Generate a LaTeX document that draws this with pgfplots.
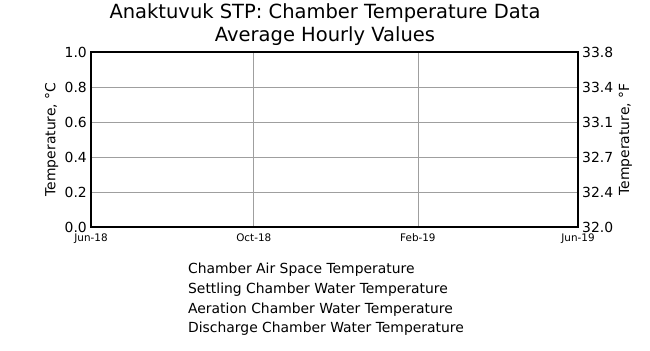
\documentclass[border=0pt]{standalone}
\usepackage{pgfplots}
\pgfplotsset{compat=1.18}
\usepackage{fontspec}
\setmainfont{DejaVu Sans}
\begin{document}
\begin{tikzpicture}[x=1bp,y=1bp]
\useasboundingbox (0,0) rectangle (650,350);
\pgfplotsset{
  /pgf/number format/assume math mode=true,
  every axis/.append style={
    scale only axis, width=487bp, height=175bp,
    at={(91bp,123bp)}, anchor=south west,
    xmin=0, xmax=365, ymin=0, ymax=1,
    axis line style={line width=1.1bp, black},
    major tick length=0pt,
    tick label style={font=\fontsize{13.9bp}{16bp}\selectfont},
    label style={font=\fontsize{13.9bp}{16bp}\selectfont},
  },
}
\begin{axis}[
  xtick={0,122,245,365},
  xticklabels={Jun-18,Oct-18,Feb-19,Jun-19},
  xticklabel style={font=\fontsize{10.4bp}{12bp}\selectfont, inner sep=1bp, yshift=-5.5bp},
  ytick={0,0.2,0.4,0.6,0.8,1.0},
  yticklabel style={/pgf/number format/fixed, /pgf/number format/fixed zerofill, /pgf/number format/precision=1, inner sep=0pt, xshift=-4bp},
  grid=major,
  major grid style={gray!75, line width=0.6bp},
  ylabel={Temperature, °C},
  ylabel style={yshift=3bp},
  legend style={at={(0.195,-0.195)}, anchor=north west, draw=none, fill=none,
    font=\fontsize{13.9bp}{16bp}\selectfont, cells={anchor=west},
    row sep=3.6bp, inner sep=0pt},
  legend image code/.code={},
]
\addlegendimage{empty legend}
\addlegendentry{Chamber Air Space Temperature}
\addlegendimage{empty legend}
\addlegendentry{Settling Chamber Water Temperature}
\addlegendimage{empty legend}
\addlegendentry{Aeration Chamber Water Temperature}
\addlegendimage{empty legend}
\addlegendentry{Discharge Chamber Water Temperature}
\end{axis}
\begin{axis}[
  axis x line=none,
  axis y line*=right,
  ymin=32, ymax=33.8,
  ytick={32,32.36,32.72,33.08,33.44,33.8},
  yticklabel style={/pgf/number format/fixed, /pgf/number format/fixed zerofill, /pgf/number format/precision=1, inner sep=0pt, xshift=4bp},
  ylabel={Temperature, °F},
  ylabel style={yshift=-2bp},
]
\end{axis}
\node[align=center, font=\fontsize{19.5bp}{23.5bp}\selectfont] at (325,325.5) {Anaktuvuk STP: Chamber Temperature Data\\Average Hourly Values};
\end{tikzpicture}
\end{document}
